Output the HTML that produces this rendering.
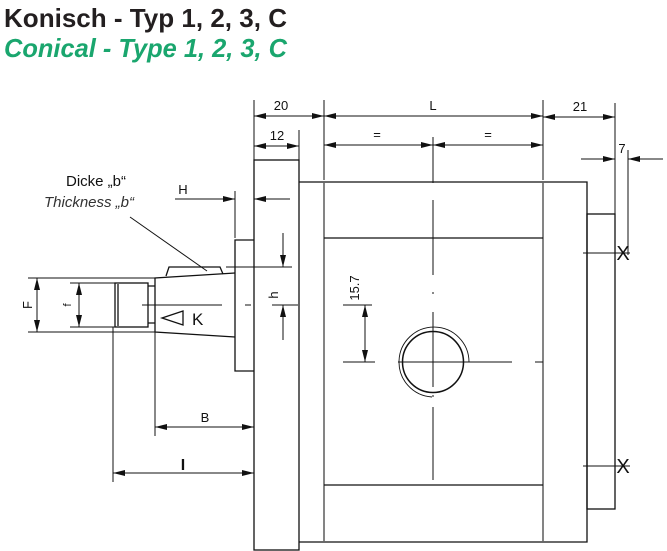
<!DOCTYPE html>
<html><head><style>body{margin:0;background:#fff}svg{display:block}</style></head><body>
<svg width="667" height="551" viewBox="0 0 667 551" xmlns="http://www.w3.org/2000/svg" font-family="Liberation Sans, sans-serif">
<defs>
<marker id="a" viewBox="0 0 12 6" refX="12" refY="3" markerWidth="12" markerHeight="6" orient="auto-start-reverse" markerUnits="userSpaceOnUse"><path d="M0,0 L12,3 L0,6 Z" fill="#111"/></marker>
</defs>
<text x="4" y="27" font-size="26" font-weight="bold" fill="#231f20" textLength="283" lengthAdjust="spacingAndGlyphs">Konisch - Typ 1, 2, 3, C</text>
<text x="4" y="57" font-size="26" font-weight="bold" font-style="italic" fill="#1aa66e" textLength="283" lengthAdjust="spacingAndGlyphs">Conical - Type 1, 2, 3, C</text>
<g stroke="#111" stroke-width="1.3" fill="none">
<rect x="254" y="160" width="45" height="390"/>
<path d="M299 182 H587 V542 H299"/>
<line x1="324" y1="182" x2="324" y2="542" stroke="#666" stroke-width="1.6"/>
<line x1="543" y1="182" x2="543" y2="542" stroke="#666" stroke-width="1.6"/>
<line x1="324" y1="238" x2="543" y2="238"/>
<line x1="324" y1="485" x2="543" y2="485"/>
<rect x="587" y="214" width="28" height="295"/>
<path d="M254 240 H235 V371 H254"/>
<path d="M235 273 L155 278 V332 L235 337"/>
<path d="M155 286 H148 M155 323 H148"/>
<rect x="115" y="283" width="33" height="44"/>
<line x1="118" y1="284" x2="118" y2="326"/>
<path d="M166 276 L169 267 H220 L223 274"/>
<circle cx="433" cy="362" r="30.5" stroke-width="1.5"/>
<path d="M432 397 A35 35 0 1 1 469 362" stroke-width="0.9"/>
</g>
<g stroke="#111" stroke-width="1" fill="none">
<path d="M433 137 V183 M433 200 V275 M433 292 V294 M433 312 V387 M433 395 V397 M433 407 V480"/>
<path d="M142 305 H222 M245 305 H251 M272 305 H298"/>
<path d="M398 362 H408 M400 362 H512 M535 362 H543"/>
<path d="M254 100 V160 M324 100 V180 M299 130 V160 M543 100 V180 M615 103 V214 M628 150 V255"/>
<path d="M235 191 V238 M583 253 H630 M583 466 H630"/>
<path d="M28 278 H155 M28 332 H155 M70 283 H115 M70 327 H115"/>
<path d="M113 327 V482 M155 332 V436"/>
<path d="M343 305 H372 M343 362 H375"/>
<path d="M226 267 H292"/>
<line x1="130" y1="217" x2="207" y2="271"/>
<line x1="254" y1="116" x2="324" y2="116" marker-start="url(#a)" marker-end="url(#a)"/>
<line x1="254" y1="146" x2="299" y2="146" marker-start="url(#a)" marker-end="url(#a)"/>
<line x1="324" y1="116" x2="543" y2="116" marker-start="url(#a)" marker-end="url(#a)"/>
<line x1="324" y1="145" x2="433" y2="145" marker-start="url(#a)" marker-end="url(#a)"/>
<line x1="433" y1="145" x2="543" y2="145" marker-start="url(#a)" marker-end="url(#a)"/>
<line x1="543" y1="117" x2="615" y2="117" marker-start="url(#a)" marker-end="url(#a)"/>
<line x1="581" y1="159" x2="615" y2="159" marker-end="url(#a)"/>
<line x1="663" y1="159" x2="628" y2="159" marker-end="url(#a)"/>
<line x1="175" y1="199" x2="235" y2="199" marker-end="url(#a)"/>
<line x1="290" y1="199" x2="254" y2="199" marker-end="url(#a)"/>
<line x1="283" y1="233" x2="283" y2="267" marker-end="url(#a)"/>
<line x1="283" y1="340" x2="283" y2="305" marker-end="url(#a)"/>
<line x1="365" y1="305" x2="365" y2="362" marker-start="url(#a)" marker-end="url(#a)"/>
<line x1="37" y1="278" x2="37" y2="332" marker-start="url(#a)" marker-end="url(#a)"/>
<line x1="79" y1="283" x2="79" y2="327" marker-start="url(#a)" marker-end="url(#a)"/>
<line x1="155" y1="427" x2="254" y2="427" marker-start="url(#a)" marker-end="url(#a)"/>
<line x1="113" y1="473" x2="254" y2="473" marker-start="url(#a)" marker-end="url(#a)"/>
<path d="M183 311 L162 318 L183 325 Z" stroke-width="1.3"/>
</g>
<g fill="#111" font-size="13">
<text x="281" y="110" text-anchor="middle">20</text>
<text x="277" y="140" text-anchor="middle">12</text>
<text x="433" y="110" text-anchor="middle">L</text>
<text x="377" y="139" text-anchor="middle">=</text>
<text x="488" y="139" text-anchor="middle">=</text>
<text x="580" y="111" text-anchor="middle">21</text>
<text x="622" y="153" text-anchor="middle">7</text>
<text x="183" y="194" text-anchor="middle">H</text>
<text x="205" y="422" text-anchor="middle">B</text>
<text x="183" y="470" text-anchor="middle" font-size="16" font-weight="bold">I</text>
<text x="192" y="325" font-size="17">K</text>
<text x="623" y="260" text-anchor="middle" font-size="20">X</text>
<text x="623" y="473" text-anchor="middle" font-size="20">X</text>
<text transform="translate(278,295) rotate(-90)" text-anchor="middle">h</text>
<text transform="translate(359,288) rotate(-90)" text-anchor="middle">15.7</text>
<text transform="translate(32,305) rotate(-90)" text-anchor="middle">F</text>
<text transform="translate(71,305) rotate(-90)" text-anchor="middle" font-size="11">f</text>
<text x="96" y="186" text-anchor="middle" font-size="15">Dicke „b“</text>
<text x="89" y="207" text-anchor="middle" font-size="15" font-style="italic" fill="#333">Thickness „b“</text>
</g>
</svg>
</body></html>
